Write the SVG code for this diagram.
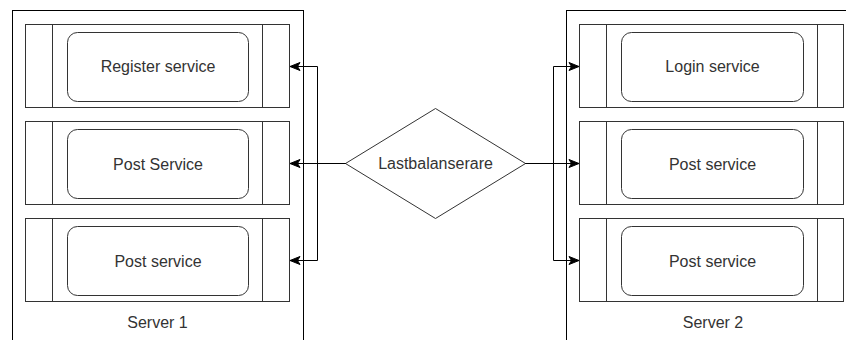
<svg xmlns="http://www.w3.org/2000/svg" width="846" height="340" viewBox="0 0 846 340">
  <defs>
    <style>
      .container { fill: #ffffff; stroke: #000000; stroke-width: 1; }
      .process { fill: #ffffff; stroke: #333333; stroke-width: 1; }
      .divider { stroke: #333333; stroke-width: 1; fill: none; }
      .service { fill: #ffffff; stroke: #333333; stroke-width: 1; }
      .decision { fill: #ffffff; stroke: #333333; stroke-width: 1; }
      .label { font-family: "Liberation Sans", Arial, sans-serif; font-size: 16px; fill: #333333; text-anchor: middle; }
      .edge { fill: none; stroke: #000000; stroke-width: 1; marker-end: url(#arrow); }
    </style>
    <marker id="arrow" markerUnits="userSpaceOnUse" markerWidth="12" markerHeight="12" viewBox="0 0 12 12" refX="11" refY="6" orient="auto">
      <path d="M1,2 L11,6 L1,10 L3.5,6 Z" fill="#000000" stroke="#000000" stroke-width="1" stroke-linejoin="miter"/>
    </marker>
  </defs>

  <rect width="846" height="340" fill="#ffffff"/>

  <!-- Server 1 -->
  <g id="server1">
    <rect class="container" x="12.5" y="10.5" width="291" height="340"/>
    <text class="label" x="157.5" y="328">Server 1</text>
  </g>
  <g id="register-service">
    <rect class="process" x="25.5" y="24.5" width="264" height="83"/>
    <path class="divider" d="M52.5,24.5 V107.5 M262.5,24.5 V107.5"/>
    <rect class="service" x="67.5" y="32.5" width="181" height="69" rx="10" ry="10"/>
    <text class="label" x="158" y="72">Register service</text>
  </g>
  <g id="post-service-1">
    <rect class="process" x="25.5" y="121.5" width="264" height="83"/>
    <path class="divider" d="M52.5,121.5 V204.5 M262.5,121.5 V204.5"/>
    <rect class="service" x="67.5" y="129.5" width="181" height="69" rx="10" ry="10"/>
    <text class="label" x="158" y="170">Post Service</text>
  </g>
  <g id="post-service-2">
    <rect class="process" x="25.5" y="218.5" width="264" height="83"/>
    <path class="divider" d="M52.5,218.5 V301.5 M262.5,218.5 V301.5"/>
    <rect class="service" x="67.5" y="226.5" width="181" height="69" rx="10" ry="10"/>
    <text class="label" x="158" y="267">Post service</text>
  </g>

  <!-- Server 2 -->
  <g id="server2">
    <rect class="container" x="566.5" y="10.5" width="300" height="340"/>
    <text class="label" x="713" y="328">Server 2</text>
  </g>
  <g id="login-service">
    <rect class="process" x="579.5" y="24.5" width="264" height="83"/>
    <path class="divider" d="M606.5,24.5 V107.5 M817.5,24.5 V107.5"/>
    <rect class="service" x="621.5" y="32.5" width="182" height="69" rx="10" ry="10"/>
    <text class="label" x="712.5" y="72">Login service</text>
  </g>
  <g id="post-service-3">
    <rect class="process" x="579.5" y="121.5" width="264" height="83"/>
    <path class="divider" d="M606.5,121.5 V204.5 M817.5,121.5 V204.5"/>
    <rect class="service" x="621.5" y="129.5" width="182" height="69" rx="10" ry="10"/>
    <text class="label" x="712.5" y="170">Post service</text>
  </g>
  <g id="post-service-4">
    <rect class="process" x="579.5" y="218.5" width="264" height="83"/>
    <path class="divider" d="M606.5,218.5 V301.5 M817.5,218.5 V301.5"/>
    <rect class="service" x="621.5" y="226.5" width="182" height="69" rx="10" ry="10"/>
    <text class="label" x="712.5" y="267">Post service</text>
  </g>

  <!-- Load balancer -->
  <g id="load-balancer">
    <polygon class="decision" points="345.5,163.5 435.5,108.5 525.5,163.5 435.5,218.5"/>
    <text class="label" x="435.5" y="169">Lastbalanserare</text>
  </g>

  <!-- Connectors -->
  <g id="connectors">
    <path class="edge" d="M345.5,163.5 H290"/>
    <path class="edge" d="M345.5,163.5 H317.5 V66.5 H290"/>
    <path class="edge" d="M345.5,163.5 H317.5 V260.5 H290"/>
    <path class="edge" d="M525.5,163.5 H579"/>
    <path class="edge" d="M525.5,163.5 H553.5 V66.5 H579"/>
    <path class="edge" d="M525.5,163.5 H553.5 V260.5 H579"/>
  </g>
</svg>
